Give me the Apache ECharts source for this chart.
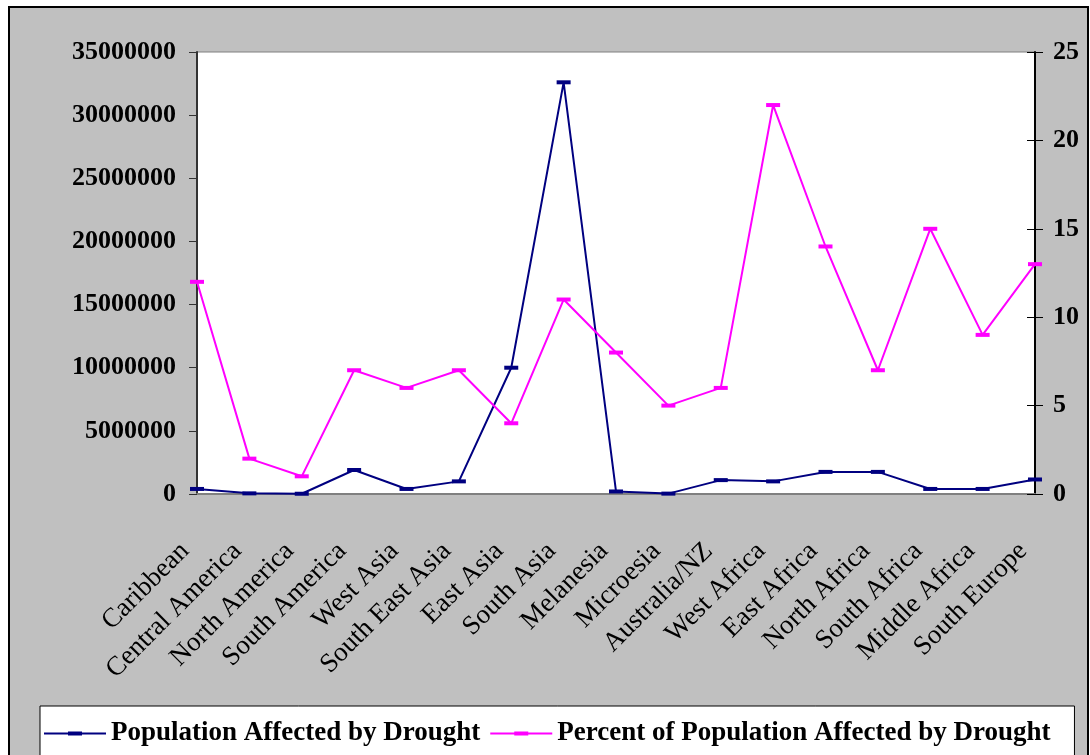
<!DOCTYPE html>
<html><head><meta charset="utf-8">
<script src="https://cdn.jsdelivr.net/npm/echarts@6/dist/echarts.min.js"></script>
<style>html,body{margin:0;padding:0;background:#fff}#c{width:1090px;height:755px}</style>
</head><body><div id="c"></div>
<script>
const categories = ["Caribbean","Central America","North America","South America","West Asia","South East Asia","East Asia","South Asia","Melanesia","Microesia","Australia/NZ","West Africa","East Africa","North Africa","South Africa","Middle Africa","South Europe"];
const populationAffected = [400000,50000,20000,1900000,400000,1000000,10000000,32600000,200000,30000,1100000,1000000,1750000,1750000,400000,400000,1150000];
const percentAffected = [12,2,1,7,6,7,4,11,8,5,6,22,14,7,15,9,13];
const leftTicks = {min:0,max:35000000,interval:5000000};
const rightTicks = {min:0,max:25,interval:5};

const chart = echarts.init(document.getElementById('c'));
const serif = '"Liberation Serif", "DejaVu Serif", serif';
const legendIcon = 'path://M0,1.1L62,1.1L62,2.9L0,2.9ZM24,0L38,0L38,4L24,4Z';
chart.setOption({
  animation:false,
  graphic:[{type:'rect',z:-10,shape:{x:9,y:7,width:1079,height:800},style:{fill:'#c0c0c0',stroke:'#000',lineWidth:2}}],
  grid:{left:197,right:55,top:52,bottom:261,show:true,backgroundColor:'#fff',borderColor:'#808080',borderWidth:1},
  legend:{left:40,top:706,backgroundColor:'#fff',borderColor:'#000',borderWidth:1,padding:[14,24,12,4],itemWidth:62,itemHeight:4,itemGap:10,
    textStyle:{fontFamily:serif,fontWeight:'bold',fontSize:27,color:'#000'},
    data:[{name:'Population Affected by Drought',icon:legendIcon},{name:'Percent of Population Affected by Drought',icon:legendIcon}]},
  xAxis:{type:'category',data:categories,boundaryGap:false,
    axisLine:{lineStyle:{color:'#808080',width:2}},axisTick:{show:false},
    axisLabel:{rotate:45,interval:0,margin:41,padding:[0,17,0,0],fontFamily:serif,fontSize:27,color:'#000'}},
  yAxis:[
    {type:'value',position:'left',...leftTicks,splitLine:{show:false},
      axisLine:{show:true,lineStyle:{color:'#333',width:2}},axisTick:{show:true,length:8,lineStyle:{color:'#333'}},
      axisLabel:{margin:21,fontFamily:serif,fontWeight:'bold',fontSize:26,color:'#000',formatter:v=>String(v)}},
    {type:'value',position:'right',...rightTicks,splitLine:{show:false},
      axisLine:{show:true,lineStyle:{color:'#000',width:2}},axisTick:{show:true,length:8,lineStyle:{color:'#000'}},
      axisLabel:{margin:18,fontFamily:serif,fontWeight:'bold',fontSize:26,color:'#000'}},
    {type:'value',position:'right',...rightTicks,splitLine:{show:false},
      axisLine:{show:false},axisTick:{show:true,inside:true,length:8,lineStyle:{color:'#000'}},
      axisLabel:{show:false}}
  ],
  series:[
    {name:'Population Affected by Drought',type:'line',yAxisIndex:0,data:populationAffected,
      symbol:'rect',symbolSize:[14,4],showSymbol:true,color:'#000080',lineStyle:{width:2,color:'#000080'},itemStyle:{color:'#000080'}},
    {name:'Percent of Population Affected by Drought',type:'line',yAxisIndex:1,data:percentAffected,
      symbol:'rect',symbolSize:[14,4],showSymbol:true,color:'#ff00ff',lineStyle:{width:2,color:'#ff00ff'},itemStyle:{color:'#ff00ff'}}
  ]
});
</script></body></html>
